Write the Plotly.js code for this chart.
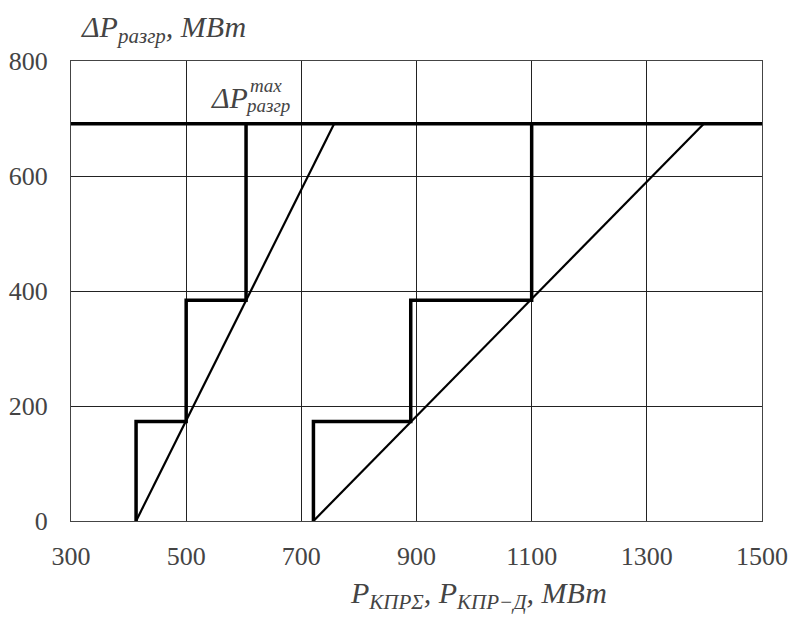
<!DOCTYPE html>
<html>
<head>
<meta charset="utf-8">
<script src="https://cdn.plot.ly/plotly-3.0.1.min.js"></script>
<style>
html,body{margin:0;padding:0;background:#fff;}
#chart{width:791px;height:618px;}
</style>
</head>
<body>
<div id="chart"></div>
<script>
// Data
const xTicks = [300, 500, 700, 900, 1100, 1300, 1500];
const yTicks = [0, 200, 400, 600, 800];

// Step line 1 (corner vertices, drawn with 'vh' shape)
const step1X = [413, 500, 604, 604];
const step1Y = [0, 173, 384, 691];
// Diagonal 1
const diag1X = [413, 757];
const diag1Y = [0, 691];

// Step line 2
const step2X = [721, 890, 1100, 1100];
const step2Y = [0, 173, 384, 691];
// Diagonal 2
const diag2X = [721, 1399];
const diag2Y = [0, 691];

// Maximum line
const maxX = [300, 1500];
const maxY = [691, 691];

const traces = [
  {x: maxX, y: maxY, mode: 'lines', line: {color: '#000', width: 3.5}},
  {x: step1X, y: step1Y, mode: 'lines', line: {color: '#000', width: 3.5, shape: 'vh'}},
  {x: diag1X, y: diag1Y, mode: 'lines', line: {color: '#000', width: 2.2}},
  {x: step2X, y: step2Y, mode: 'lines', line: {color: '#000', width: 3.5, shape: 'vh'}},
  {x: diag2X, y: diag2Y, mode: 'lines', line: {color: '#000', width: 2.2}}
];

const layout = {
  width: 791, height: 618,
  margin: {l: 71, r: 29, t: 61, b: 97},
  showlegend: false,
  font: {family: 'Liberation Serif', size: 26},
  xaxis: {
    range: [300, 1500], tickvals: xTicks, ticktext: xTicks.map(String),
    gridcolor: '#222', showline: true, mirror: true, linecolor: '#444',
    zeroline: false, ticks: 'outside', ticklen: 12, tickcolor: 'rgba(0,0,0,0)'
  },
  yaxis: {
    range: [0, 800], tickvals: yTicks, ticktext: yTicks.map(String),
    gridcolor: '#222', showline: true, mirror: true, linecolor: '#444',
    zeroline: false, ticks: 'outside', ticklen: 17, tickcolor: 'rgba(0,0,0,0)'
  },
  annotations: [
    {xref: 'paper', yref: 'paper', x: 0.012, y: 1.07, xanchor: 'left', yanchor: 'middle', showarrow: false,
     text: '<i>ΔP<sub>разгр</sub>, МВт</i>', font: {size: 30}},
    {xref: 'paper', yref: 'paper', x: 0.59, y: -0.16, xanchor: 'center', yanchor: 'middle', showarrow: false,
     text: '<i>P<sub>КПРΣ</sub>, P<sub>КПР−Д</sub>, МВт</i>', font: {size: 30}},
    {xref: 'x', yref: 'y', x: 611, y: 737, xanchor: 'right', yanchor: 'middle', showarrow: false,
     text: '<i>ΔP</i>', font: {size: 30}},
    {xref: 'x', yref: 'y', x: 608, y: 758, xanchor: 'left', yanchor: 'middle', showarrow: false,
     text: '<i>max</i>', font: {size: 19}},
    {xref: 'x', yref: 'y', x: 599, y: 722, xanchor: 'left', yanchor: 'middle', showarrow: false,
     text: '<i>разгр</i>', font: {size: 19}}
  ]
};

Plotly.newPlot('chart', traces, layout, {staticPlot: true});
</script>
</body>
</html>
